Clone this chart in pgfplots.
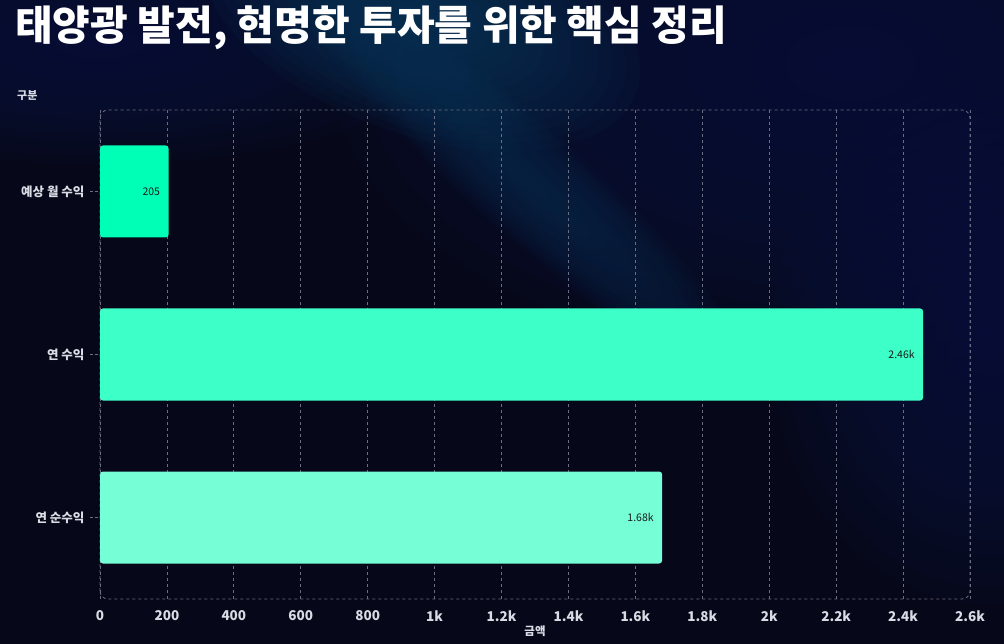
\documentclass[border=0pt]{standalone}
\usepackage{pgfplots}
\pgfplotsset{compat=1.18}
\usepackage{fontspec}
\setmainfont{Noto Sans CJK KR}
\definecolor{bgbase}{HTML}{060719}
\definecolor{bgglow}{HTML}{0E3A5E}
\definecolor{bgmid}{HTML}{0B1740}
\definecolor{bgstreak}{HTML}{0C2A4C}
\definecolor{gridc}{HTML}{6A6E80}
\definecolor{lab}{HTML}{D8DCE4}
\definecolor{barA}{HTML}{00FFB6}
\definecolor{barB}{HTML}{3DFFC8}
\definecolor{barC}{HTML}{76FFD6}
% soft glow: #1 colour, #2 centre, #3 rx, #4 ry, #5 rotation
\newcommand\softglow[5]{%
  \foreach \k in {1,...,16}{%
    \fill[#1, opacity=0.09, rotate around={#5:#2}] #2 ellipse ({#3*\k/16} and {#4*\k/16});
  }}
\begin{document}
\begin{tikzpicture}[x=1pt,y=1pt]
% background
\fill[bgbase] (0,0) rectangle (1004,644);
\begin{scope}
\clip (0,0) rectangle (1004,644);
\softglow{bgmid}{(850,580)}{520}{300}{0}
\softglow{bgmid}{(990,300)}{220}{260}{0}
\softglow{bgmid}{(100,600)}{350}{120}{0}
\softglow{bgstreak}{(520,470)}{300}{55}{-42}
\softglow{bgglow}{(420,630)}{230}{120}{-20}
\end{scope}
\useasboundingbox (0,0) rectangle (1004,644);
% title
\node[anchor=west, inner sep=0pt, text=white, font=\fontsize{41}{44}\selectfont\bfseries] at (15,616) {태양광 발전, 현명한 투자를 위한 핵심 정리};
\node[anchor=west, inner sep=0pt, text=lab, font=\fontsize{11}{12}\selectfont\bfseries] at (17,548) {구분};
\begin{axis}[
  at={(100pt,45pt)}, anchor=south west,
  width=870pt, height=489pt, scale only axis,
  xmin=0, xmax=2600, ymin=-0.5, ymax=2.5,
  y dir=reverse,
  xbar, bar width=92pt, bar shift=0pt,
  xtick={0,200,400,600,800,1000,1200,1400,1600,1800,2000,2200,2400,2600},
  xticklabels={0,200,400,600,800,1k,1.2k,1.4k,1.6k,1.8k,2k,2.2k,2.4k,2.6k},
  ytick={0,1,2},
  yticklabels={예상 월 수익,연 수익,연 순수익},
  axis line style={draw=none},
  xmajorgrids, grid style={gridc, dash pattern=on 3pt off 3pt, line width=0.8pt},
  major x tick style={draw=none},
  major y tick style={gridc, dash pattern=on 3pt off 2pt, line width=0.8pt},
  ytick pos=left, tick align=outside, major tick length=10pt,
  ticklabel style={text=lab, font=\fontsize{13.5}{14}\selectfont\bfseries},
  yticklabel style={font=\fontsize{12.5}{13}\selectfont\bfseries, xshift=-2pt},
  xticklabel style={yshift=2pt},
  /pgf/number format/assume math mode=true,
  xlabel={금액}, xlabel style={text=lab, font=\fontsize{11.5}{12}\selectfont\bfseries, yshift=3pt},
  nodes near coords, point meta=explicit symbolic,
  every node near coord/.append style={anchor=east, xshift=-5pt, text=black!90, font=\fontsize{10.5}{12}\selectfont},
  clip=false,
]
\draw[gridc, dash pattern=on 3pt off 3pt, line width=0.8pt, rounded corners=8pt] (rel axis cs:0,0) rectangle (rel axis cs:1,1);
\addplot[draw=none, fill=barA, rounded corners=3pt] coordinates {(205,0) [205]};
\addplot[draw=none, fill=barB, rounded corners=3pt] coordinates {(2460,1) [2.46k]};
\addplot[draw=none, fill=barC, rounded corners=3pt] coordinates {(1680,2) [1.68k]};
\end{axis}
\end{tikzpicture}
\end{document}
